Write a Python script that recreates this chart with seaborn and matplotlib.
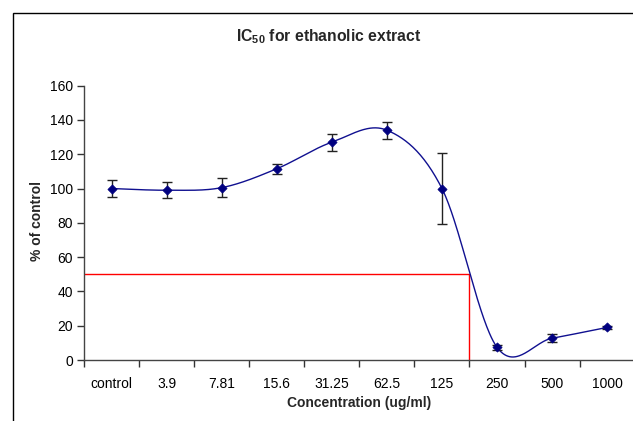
import numpy as np
import pandas as pd
import matplotlib
matplotlib.use("Agg")
import matplotlib.pyplot as plt
from matplotlib.patches import Rectangle
import seaborn as sns

# Dose-response data: % of control at each concentration (ug/ml)
concentrations = ["control", "3.9", "7.81", "15.6", "31.25", "62.5", "125", "250", "500", "1000"]
percent_of_control = [100, 99, 100.5, 111.5, 127, 134, 100, 7.4, 12.7, 19]
error = [5, 4.5, 5.5, 3, 5, 5, 20.5, 1.5, 2.3, 1]
ic50_level = 50
ic50_position = 6.5  # boundary between 125 and 250

sns.set_theme(style="white")
plt.rcParams["font.family"] = ["Liberation Sans", "DejaVu Sans"]


def smooth_curve(y, n=60):
    """Bezier smoothing through every point (Catmull-Rom style control points)."""
    y = np.asarray(y, dtype=float)
    x = np.arange(len(y), dtype=float)
    pts = np.column_stack([x, y])
    xs, ys = [], []
    for i in range(len(pts) - 1):
        p0 = pts[i - 1] if i > 0 else pts[i]
        p1 = pts[i]
        p2 = pts[i + 1]
        p3 = pts[i + 2] if i + 2 < len(pts) else pts[i + 1]
        c1 = p1 + (p2 - p0) / 6.0
        c2 = p2 - (p3 - p1) / 6.0
        t = np.linspace(0, 1, n)[:, None]
        seg = ((1 - t) ** 3) * p1 + 3 * ((1 - t) ** 2) * t * c1 + 3 * (1 - t) * t ** 2 * c2 + t ** 3 * p2
        if i > 0:
            seg = seg[1:]
        xs.append(seg[:, 0])
        ys.append(seg[:, 1])
    return np.concatenate(xs), np.concatenate(ys)


df = pd.DataFrame({"pos": np.arange(len(concentrations)),
                   "value": percent_of_control, "err": error})
cx, cy = smooth_curve(percent_of_control)
curve = pd.DataFrame({"x": cx, "y": cy})

W, H = 633, 421
fig = plt.figure(figsize=(W / 100, H / 100), dpi=100)
fig.patch.set_facecolor("white")

# chart frame
fig.add_artist(Rectangle((12.5 / W, -0.2), 2.0, 1.2 - 12.5 / H, transform=fig.transFigure,
                         fill=False, edgecolor="black", linewidth=1.0))

left, right_px, bottom_px, top_px = 84, 634.7, 360, 85.6
ax = fig.add_axes([left / W, (H - bottom_px) / H, (right_px - left) / W, (bottom_px - top_px) / H])
ax.set_facecolor("none")

# IC50 guide lines
ax.plot([-0.5, ic50_position], [ic50_level, ic50_level], color="#ff0000", lw=1.0, zorder=1)
ax.plot([ic50_position, ic50_position], [0, ic50_level], color="#ff0000", lw=1.0, zorder=1)

sns.lineplot(data=curve, x="x", y="y", ax=ax, color="#101090", lw=1.0, sort=False,
             estimator=None, zorder=2)
ax.errorbar(df["pos"], df["value"], yerr=df["err"], fmt="none", ecolor="#222222",
            elinewidth=1.0, capsize=3.5, capthick=1.0, zorder=3)
sns.scatterplot(data=df, x="pos", y="value", ax=ax, marker="D", s=22, color="#000080",
                edgecolor="#000080", linewidth=0.5, zorder=4)

ax.set_xlim(-0.5, len(concentrations) - 0.5)
ax.set_ylim(0, 160)
ax.set_yticks(np.arange(0, 161, 20))
ax.set_xticks(np.arange(-0.5, len(concentrations) + 0.5, 1.0))
ax.set_xticklabels([])
ax.set_xticks(np.arange(len(concentrations)), minor=True)
ax.set_xticklabels(concentrations, minor=True)
ax.tick_params(axis="x", which="major", direction="out", length=5, width=1, color="#333333", bottom=True)
ax.tick_params(axis="x", which="minor", length=0, labelsize=10, pad=12, colors="black")
ax.tick_params(axis="y", direction="out", length=5, width=1, color="#333333", left=True,
               labelsize=10, pad=3, colors="black")
ax.tick_params(axis="y", colors="#333333", labelcolor="black")

for side in ["top", "right"]:
    ax.spines[side].set_visible(False)
for side in ["left", "bottom"]:
    ax.spines[side].set_color("#444444")
    ax.spines[side].set_linewidth(1.0)

ax.set_xlabel("Concentration (ug/ml)", fontsize=10, fontweight="bold")
ax.set_ylabel("% of control", fontsize=10, fontweight="bold")
ax.xaxis.set_label_coords((359 - left) / (right_px - left), -(396 - bottom_px) / (bottom_px - top_px))
ax.yaxis.set_label_coords(-(84 - 44) / (right_px - left), (bottom_px - 221) / (bottom_px - top_px))

fig.text(328.5 / W, 1 - 37 / H, r"IC$\mathregular{_{50}}$ for ethanolic extract", ha="center",
         va="center", fontsize=11.3, fontweight="bold")

fig.savefig("out.png", dpi=100, facecolor="white")
